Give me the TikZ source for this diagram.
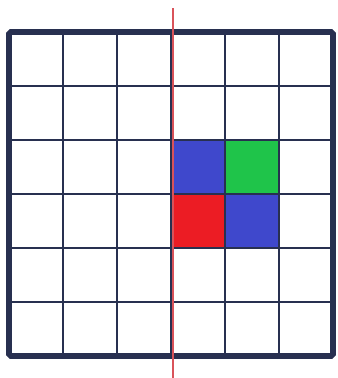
\documentclass[tikz,border=0pt]{standalone}
\usetikzlibrary{calc}

\definecolor{gridnavy}{HTML}{283050}
\definecolor{cellblue}{HTML}{3F48CC}
\definecolor{cellgreen}{HTML}{1FC44A}
\definecolor{cellred}{HTML}{EC1C24}
\definecolor{axisred}{HTML}{D9535A}

\begin{document}
\begin{tikzpicture}[x=1cm, y=-1cm,
    inner grid/.style={gridnavy, line width=1.5pt},
    outer frame/.style={gridnavy, line width=3pt, rounded corners=1pt}]

    \useasboundingbox (-0.167, -0.593) rectangle (6.074, 6.407);

    % coloured cells
    \fill[cellblue]  (3, 2) rectangle (4, 3);
    \fill[cellgreen] (4, 2) rectangle (5, 3);
    \fill[cellred]   (3, 3) rectangle (4, 4);
    \fill[cellblue]  (4, 3) rectangle (5, 4);

    % grid
    \foreach \i in {1,...,5} {
        \draw[inner grid] (\i, 0) -- (\i, 6);
        \draw[inner grid] (0, \i) -- (6, \i);
    }
    \draw[outer frame] (0, 0) rectangle (6, 6);

    % vertical red line
    \coordinate (Ltop) at (3.037, -0.444);
    \coordinate (Lbot) at (3.037, 6.407);
    \draw[axisred, line width=1pt] (Ltop) -- (Lbot);

\end{tikzpicture}
\end{document}
